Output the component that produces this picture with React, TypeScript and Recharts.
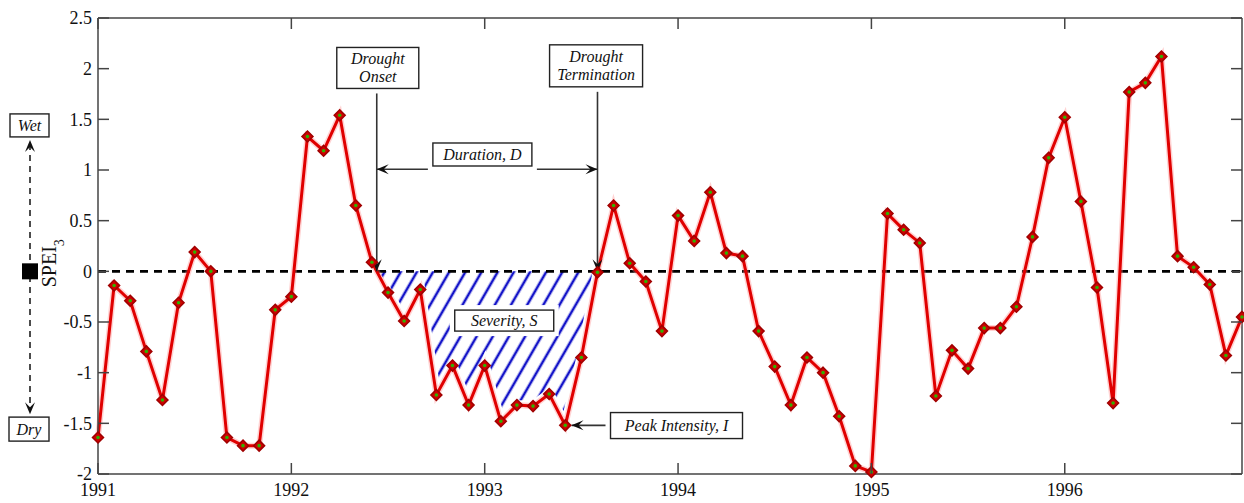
import React from 'react'
import { ComposedChart, Line, Area, XAxis, YAxis, ReferenceLine, ReferenceDot } from 'recharts'

// monthly SPEI-3 values, Jan 1991 .. Dec 1996
const spei = [
  -1.64, -0.14, -0.29, -0.79, -1.27, -0.31, 0.19, 0.0, -1.64, -1.72, -1.72, -0.38,
  -0.25, 1.33, 1.19, 1.54, 0.65, 0.09, -0.21, -0.49, -0.18, -1.22, -0.93, -1.32,
  -0.93, -1.48, -1.32, -1.33, -1.21, -1.52, -0.85, -0.01, 0.65, 0.08, -0.1, -0.59,
  0.55, 0.3, 0.78, 0.18, 0.15, -0.59, -0.94, -1.32, -0.85, -1.0, -1.43, -1.92,
  -1.98, 0.57, 0.41, 0.28, -1.23, -0.78, -0.96, -0.56, -0.56, -0.35, 0.34, 1.12,
  1.52, 0.69, -0.16, -1.3, 1.77, 1.86, 2.12, 0.15, 0.04, -0.13, -0.83, -0.45,
]
const months = spei.map((_, i) => 1991 + i / 12)
const xTicks = [1991, 1992, 1993, 1994, 1995, 1996]
const yTicks = [-2, -1.5, -1, -0.5, 0, 0.5, 1, 1.5, 2, 2.5]

// drought event: months 17..31 (Jun 1992 - Aug 1993)
const onsetIdx = 17
const endIdx = 31
const peakIdx = 29
const onsetT = months[onsetIdx] + spei[onsetIdx] / (spei[onsetIdx] - spei[onsetIdx + 1]) / 12
const endT = months[endIdx]
const tEnd = months[months.length - 1]

const boxes = [
  { id: 'onset', lines: ['Drought', 'Onset'], t: 1992.447, y: 2.007, w: 82, h: 41 },
  { id: 'term', lines: ['Drought', 'Termination'], t: 1993.576, y: 2.028, w: 93, h: 42 },
  { id: 'dur', lines: ['Duration, D'], t: 1992.988, y: 1.153, w: 99, h: 23 },
  { id: 'sev', lines: ['Severity, S'], t: 1993.101, y: -0.486, w: 99, h: 21 },
  { id: 'peak', lines: ['Peak Intensity, I'], t: 1993.992, y: -1.522, w: 132, h: 26 },
]

const data = spei.map((v, i) => ({
  t: months[i],
  spei: v,
  drought: i >= onsetIdx && i <= endIdx ? Math.min(v, 0) : null,
}))

const SERIF = '"Liberation Serif", "Times New Roman", "DejaVu Serif", serif'
const AXIS = '#444'
const PLOT_W = 1144
const PLOT_H = 456

function XTick({ x, y, payload }: any) {
  return (
    <g>
      <line x1={x} x2={x} y1={y} y2={y - 11} stroke={AXIS} strokeWidth={1.5} />
      <line x1={x} x2={x} y1={y - PLOT_H} y2={y - PLOT_H + 11} stroke={AXIS} strokeWidth={1.5} />
      <text x={x} y={y + 22} textAnchor="middle" fontFamily={SERIF} fontSize={18} fill="#111">
        {payload.value}
      </text>
    </g>
  )
}

function YTick({ x, y, payload }: any) {
  return (
    <g>
      <line x1={x} x2={x + 11} y1={y} y2={y} stroke={AXIS} strokeWidth={1.5} />
      <line x1={x + PLOT_W - 11} x2={x + PLOT_W} y1={y} y2={y} stroke={AXIS} strokeWidth={1.5} />
      <text x={x - 6} y={y} dy="0.35em" textAnchor="end" fontFamily={SERIF} fontSize={18} fill="#111">
        {payload.value}
      </text>
    </g>
  )
}

function Diamond({ cx, cy, index }: any) {
  if (cx == null || cy == null) return <g key={index} />
  const s = 5.5
  return (
    <g key={index}>
      <polygon
        points={`${cx},${cy - s} ${cx + s},${cy} ${cx},${cy + s} ${cx - s},${cy}`}
        fill="#d00000"
        stroke="#a00000"
        strokeWidth={1.5}
      />
      <circle cx={cx} cy={cy} r={1.8} fill="#2fb000" />
    </g>
  )
}

function head(x1: number, y1: number, x2: number, y2: number) {
  const len = Math.hypot(x2 - x1, y2 - y1) || 1
  const ux = (x2 - x1) / len
  const uy = (y2 - y1) / len
  const L = 12, W = 5, N = 7
  return `${x2},${y2} ${x2 - L * ux - W * uy},${y2 - L * uy + W * ux} ${x2 - N * ux},${y2 - N * uy} ${x2 - L * ux + W * uy},${y2 - L * uy - W * ux}`
}

function ArrowLine(props: any) {
  const { x1, y1, x2, y2, both } = props
  return (
    <g>
      <line x1={x1} y1={y1} x2={x2} y2={y2} stroke="#333" strokeWidth={1.6} />
      <polygon points={head(x1, y1, x2, y2)} fill="#111" />
      {both && <polygon points={head(x2, y2, x1, y1)} fill="#111" />}
    </g>
  )
}

function AnnoBox({ viewBox, lines, w, h }: any) {
  const cx = viewBox.x + viewBox.width / 2
  const cy = viewBox.y + viewBox.height / 2
  const lh = 18
  return (
    <g>
      <rect x={cx - w / 2 - 5} y={cy - h / 2 - 5} width={w + 10} height={h + 10} fill="#fff" />
      <rect x={cx - w / 2} y={cy - h / 2} width={w} height={h} fill="#fff" stroke="#222" strokeWidth={1.4} />
      <text textAnchor="middle" fontFamily={SERIF} fontStyle="italic" fontSize={16} fill="#111">
        {lines.map((l: string, k: number) => (
          <tspan key={k} x={cx} y={cy + (k - (lines.length - 1) / 2) * lh + 5.5}>
            {l}
          </tspan>
        ))}
      </text>
    </g>
  )
}

function LeftDecor({ viewBox }: any) {
  const k = viewBox.height / 4.5
  const zero = viewBox.y + 2.5 * k
  const py = (v: number) => zero - v * k
  const wetTip = py(1.296)
  const dryTip = py(-1.41)
  return (
    <g>
      <line x1={30} x2={30} y1={wetTip + 4} y2={dryTip - 4} stroke="#111" strokeWidth={1.5} strokeDasharray="6 5" />
      <polygon points={head(30, wetTip + 20, 30, wetTip)} fill="#111" />
      <polygon points={head(30, dryTip - 20, 30, dryTip)} fill="#111" />
      <rect x={22} y={zero - 8} width={16} height={16} fill="#000" />
      <rect x={10} y={py(1.44) - 11.5} width={39} height={23} fill="#fff" stroke="#222" strokeWidth={1.4} />
      <text x={29.5} y={py(1.44) + 5.5} textAnchor="middle" fontFamily={SERIF} fontStyle="italic" fontSize={16} fill="#111">
        Wet
      </text>
      <rect x={9} y={py(-1.557) - 12} width={40} height={24} fill="#fff" stroke="#222" strokeWidth={1.4} />
      <text x={29} y={py(-1.557) + 5.5} textAnchor="middle" fontFamily={SERIF} fontStyle="italic" fontSize={16} fill="#111">
        Dry
      </text>
      <text x={56} y={zero + 16} transform={`rotate(-90, 56, ${zero + 16})`} fontFamily={SERIF} fontSize={20} fill="#111">
        SPEI
        <tspan dy={8} fontSize={14}>3</tspan>
      </text>
    </g>
  )
}

export default function App() {
  return (
    <div style={{ position: 'absolute', left: 0, top: 0, width: 1244, height: 503, background: '#fff' }}>
      <ComposedChart width={1244} height={503} data={data} margin={{ top: 18, right: 2, bottom: 4, left: 8 }}>
        <defs>
          <pattern id="hatch" width="14" height="14" patternUnits="userSpaceOnUse" patternTransform="rotate(30)">
            <line x1="7" y1="0" x2="7" y2="14" stroke="#1414c8" strokeWidth="2.6" />
          </pattern>
        </defs>
        <XAxis
          dataKey="t"
          type="number"
          domain={[1991, tEnd]}
          ticks={xTicks}
          interval={0}
          tick={(p: any) => <XTick {...p} />}
          tickLine={false}
          tickSize={0}
          tickMargin={0}
          axisLine={{ stroke: AXIS, strokeWidth: 1.5 }}
          height={25}
        />
        <YAxis
          type="number"
          domain={[-2, 2.5]}
          ticks={yTicks}
          interval={0}
          tick={(p: any) => <YTick {...p} />}
          tickLine={false}
          tickSize={0}
          tickMargin={0}
          axisLine={{ stroke: AXIS, strokeWidth: 1.5 }}
          width={90}
          label={<LeftDecor />}
        />
        <ReferenceLine y={2.5} stroke={AXIS} strokeWidth={1.5} />
        <ReferenceLine x={tEnd} stroke={AXIS} strokeWidth={1.5} />
        <Area
          dataKey="drought"
          type="linear"
          baseValue={0}
          fill="url(#hatch)"
          fillOpacity={1}
          stroke="#fff"
          strokeWidth={10}
          dot={false}
          activeDot={false}
          isAnimationActive={false}
        />
        <ReferenceLine y={0} stroke="#000" strokeWidth={2.6} strokeDasharray="8 6" />
        <Line dataKey="spei" type="linear" stroke="#ff8080" strokeOpacity={0.35} strokeWidth={6} dot={false} activeDot={false} isAnimationActive={false} />
        <Line
          dataKey="spei"
          type="linear"
          stroke="#e00000"
          strokeWidth={3}
          dot={(p: any) => <Diamond key={p.index} {...p} />}
          activeDot={false}
          isAnimationActive={false}
        />
        <ReferenceLine
          segment={[{ x: onsetT, y: 1.76 }, { x: onsetT, y: 0 }]}
          shape={(p: any) => <ArrowLine {...p} />}
        />
        <ReferenceLine
          segment={[{ x: endT, y: 1.79 }, { x: endT, y: 0 }]}
          shape={(p: any) => <ArrowLine {...p} />}
        />
        <ReferenceLine
          segment={[{ x: onsetT, y: 1.007 }, { x: endT, y: 1.007 }]}
          shape={(p: any) => <ArrowLine {...p} both />}
        />
        <ReferenceLine
          segment={[{ x: 1993.652, y: spei[peakIdx] }, { x: 1993.449, y: spei[peakIdx] }]}
          shape={(p: any) => <ArrowLine {...p} />}
        />
        {boxes.map((b) => (
          <ReferenceDot
            key={b.id}
            x={b.t}
            y={b.y}
            r={0}
            fill="none"
            stroke="none"
            label={<AnnoBox lines={b.lines} w={b.w} h={b.h} />}
          />
        ))}
      </ComposedChart>
    </div>
  )
}
